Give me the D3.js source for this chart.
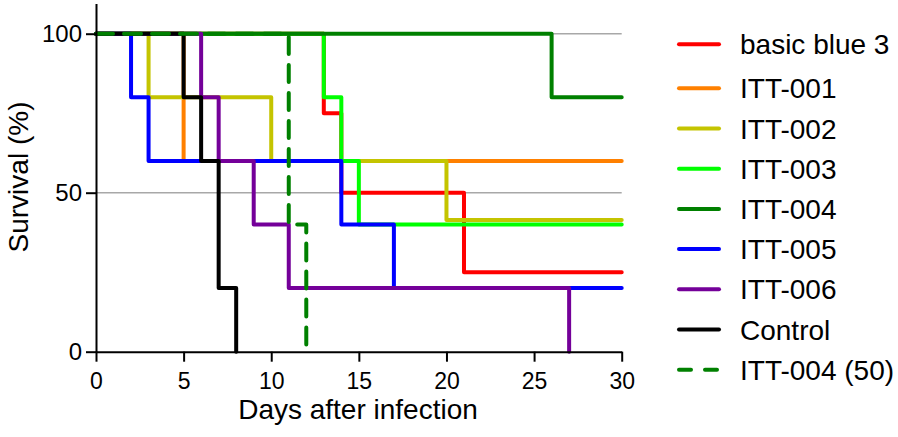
<!DOCTYPE html>
<html>
<head>
<meta charset="utf-8">
<script src="https://cdn.jsdelivr.net/npm/d3@7"></script>
<style>
  html, body { margin: 0; padding: 0; background: #fff; }
  svg { display: block; font-family: "Liberation Sans", Arial, sans-serif; }
</style>
</head>
<body>
<svg id="chart" width="898" height="437"></svg>
<script>
// ---- data ----
const seriesNames = ["basic blue 3", "ITT-001", "ITT-002", "ITT-003", "ITT-004", "ITT-005", "ITT-006", "Control", "ITT-004 (50)"];
// step change points: [day, survival %]
const basicBlue3 = [[0,100],[13,75],[14,50],[21,25],[30,25]];
const itt001     = [[0,100],[5,60],[30,60]];
const itt002     = [[0,100],[3,80],[10,60],[20,41.4],[30,41.4]];
const itt003     = [[0,100],[13,80],[14,60],[15,40],[30,40]];
const itt004     = [[0,100],[26,80],[30,80]];
const itt005     = [[0,100],[2,80],[3,60],[14,40],[17,20],[30,20]];
const itt006     = [[0,100],[6,80],[7,60],[9,40],[11,20],[27,0]];
const control    = [[0,100],[5,80],[6,60],[7,20],[8,0]];
const itt004_50  = [[0,100],[11,40],[12,0]];
const seriesData = [basicBlue3, itt001, itt002, itt003, itt004, itt005, itt006, control, itt004_50];
const xTicks = [0, 5, 10, 15, 20, 25, 30];
const yTicks = [0, 50, 100];
const gridValues = [50, 100];
const xTitle = "Days after infection";
const yTitle = "Survival (%)";

// ---- styles ----
const colors = ["#ff0000", "#ff8000", "#c4c400", "#00ff00", "#008000", "#0000ff", "#740099", "#000000", "#008000"];
const dashed = [false, false, false, false, false, false, false, false, true];

(function () {
const svg = d3.select("#chart");
const pLeft = 96, pRight = 621.7, pTop = 3.5, pBottom = 351.7;

const x = d3.scaleLinear().domain([0, 30]).range([pLeft, pRight]);
const y = d3.scaleLinear().domain([0, 109.5]).range([pBottom, pTop]);

// gridlines
svg.append("g").selectAll("line").data(gridValues).join("line")
  .attr("x1", x(0)).attr("x2", x(30))
  .attr("y1", d => y(d)).attr("y2", d => y(d))
  .attr("stroke", "#a8a8a8").attr("stroke-width", 1.6);

// curves
const line = d3.line().x(d => x(d[0])).y(d => y(d[1])).curve(d3.curveStepAfter);
const g = svg.append("g");
seriesData.forEach((s, i) => {
  g.append("path")
    .attr("d", line(s))
    .attr("fill", "none")
    .attr("stroke", colors[i])
    .attr("stroke-width", 4)
    .attr("stroke-linejoin", "round")
    .attr("stroke-linecap", "round")
    .attr("stroke-dasharray", dashed[i] ? "17,11" : null);
});

// axes
const yAxis = svg.append("g").attr("transform", `translate(${pLeft},0)`)
  .call(d3.axisLeft(y).tickValues(yTicks).tickSize(10).tickSizeOuter(0).tickPadding(4));
const xAxis = svg.append("g").attr("transform", `translate(0,${pBottom})`)
  .call(d3.axisBottom(x).tickValues(xTicks).tickSize(10).tickSizeOuter(0).tickPadding(11));
[yAxis, xAxis].forEach(a => {
  a.select(".domain").attr("stroke", "#000").attr("stroke-width", 2);
  a.selectAll(".tick line").attr("stroke", "#000").attr("stroke-width", 2);
  a.selectAll("text").attr("fill", "#000").style("font-family", '"Liberation Sans", Arial, sans-serif');
});
yAxis.selectAll("text").style("font-size", "24px");
xAxis.selectAll("text").style("font-size", "23px");

// axis titles
svg.append("text")
  .attr("x", 358).attr("y", 419)
  .attr("text-anchor", "middle")
  .style("font-size", "28px")
  .text(xTitle);
svg.append("text")
  .attr("transform", `translate(27.5,177) rotate(-90)`)
  .attr("text-anchor", "middle")
  .style("font-size", "28px")
  .text(yTitle);

// legend
const legend = svg.append("g");
seriesNames.forEach((name, i) => {
  const ly = i === 0 ? 44.3 : 88.3 + (i - 1) * 40.2;
  legend.append("line")
    .attr("x1", 679).attr("x2", 719)
    .attr("y1", ly).attr("y2", ly)
    .attr("stroke", colors[i])
    .attr("stroke-width", 4)
    .attr("stroke-linecap", "round")
    .attr("stroke-dasharray", dashed[i] ? "12,14" : null);
  legend.append("text")
    .attr("x", 740).attr("y", ly)
    .attr("dy", "0.36em")
    .style("font-size", "28px")
    .text(name);
});
})();
</script>
</body>
</html>
